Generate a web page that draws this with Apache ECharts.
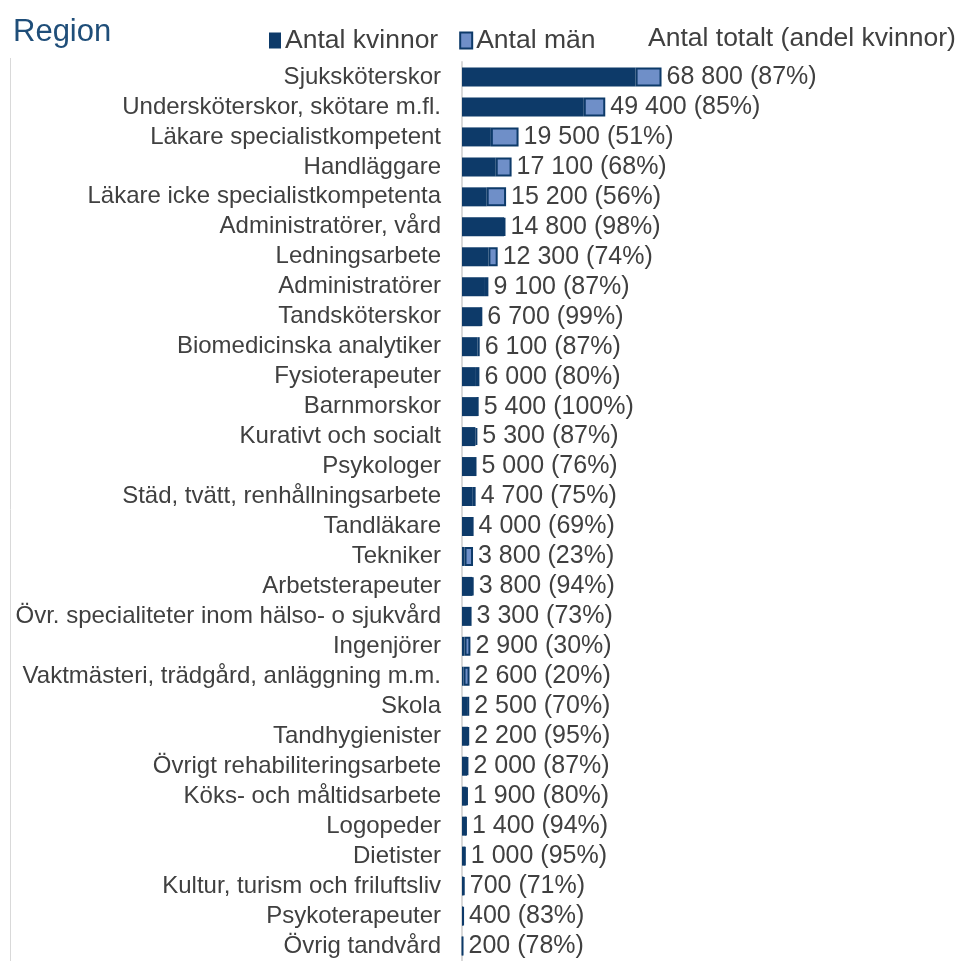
<!DOCTYPE html>
<html>
<head>
<meta charset="utf-8">
<script src="https://cdn.jsdelivr.net/npm/echarts@6/dist/echarts.min.js"></script>
<style>html,body{margin:0;padding:0;background:#fff}#c{width:958px;height:961px}</style>
</head>
<body>
<div id="c"></div>
<script>
const categories = [
  "Sjuksköterskor",
  "Undersköterskor, skötare m.fl.",
  "Läkare specialistkompetent",
  "Handläggare",
  "Läkare icke specialistkompetenta",
  "Administratörer, vård",
  "Ledningsarbete",
  "Administratörer",
  "Tandsköterskor",
  "Biomedicinska analytiker",
  "Fysioterapeuter",
  "Barnmorskor",
  "Kurativt och socialt",
  "Psykologer",
  "Städ, tvätt, renhållningsarbete",
  "Tandläkare",
  "Tekniker",
  "Arbetsterapeuter",
  "Övr. specialiteter inom hälso- o sjukvård",
  "Ingenjörer",
  "Vaktmästeri, trädgård, anläggning m.m.",
  "Skola",
  "Tandhygienister",
  "Övrigt rehabiliteringsarbete",
  "Köks- och måltidsarbete",
  "Logopeder",
  "Dietister",
  "Kultur, turism och friluftsliv",
  "Psykoterapeuter",
  "Övrig tandvård"
];
const totals = [68800, 49400, 19500, 17100, 15200, 14800, 12300, 9100, 6700, 6100, 6000, 5400, 5300, 5000, 4700, 4000, 3800, 3800, 3300, 2900, 2600, 2500, 2200, 2000, 1900, 1400, 1000, 700, 400, 200];
const shareWomen = [87, 85, 51, 68, 56, 98, 74, 87, 99, 87, 80, 100, 87, 76, 75, 69, 23, 94, 73, 30, 20, 70, 95, 87, 80, 94, 95, 71, 83, 78];

const women = totals.map((t, i) => Math.round(t * shareWomen[i] / 100));
const men = totals.map((t, i) => t - women[i]);

function fmt(n) {
  return String(n).replace(/\B(?=(\d{3})+(?!\d))/g, ' ');
}

const DARK = '#0d3a69';
const LIGHT = '#6f8fc8';
const TXT = '#404040';
const FONT = '"Liberation Sans", Arial, sans-serif';

const chart = echarts.init(document.getElementById('c'));
chart.setOption({
  animation: false,
  textStyle: { fontFamily: FONT },
  title: [
    { text: 'Region', left: 8, top: 12, textStyle: { fontFamily: FONT, fontSize: 31, fontWeight: 'normal', color: '#1f4e79' } },
    { text: 'Antal totalt (andel kvinnor)', left: 643, top: 20, textStyle: { fontFamily: FONT, fontSize: 26.5, fontWeight: 'normal', color: TXT } }
  ],
  legend: {
    left: 264, top: 22,
    itemWidth: 12, itemHeight: 16, itemGap: 21,
    icon: 'rect',
    textStyle: { fontFamily: FONT, fontSize: 26.5, color: TXT, padding: [0, 0, 0, -1] },
    data: ['Antal kvinnor', 'Antal män']
  },
  graphic: [
    { type: 'line', shape: { x1: 10.5, y1: 58, x2: 10.5, y2: 961 }, style: { stroke: '#d9d9d9', lineWidth: 1 } }
  ],
  grid: { left: 462, top: 62, height: 900, width: 290, containLabel: false },
  xAxis: { type: 'value', min: 0, max: 100000, show: false },
  yAxis: {
    type: 'category', inverse: true, data: categories,
    axisLine: { show: true, lineStyle: { color: '#d9d9d9', width: 2 } },
    axisTick: { show: false },
    axisLabel: { color: TXT, fontSize: 24, fontFamily: FONT, margin: 21, interval: 0 }
  },
  series: [
    {
      name: 'Antal kvinnor', type: 'bar', stack: 'a', barWidth: 19,
      data: women,
      itemStyle: { color: DARK, borderColor: DARK, borderWidth: 0 }
    },
    {
      name: 'Antal män', type: 'bar', stack: 'a', barWidth: 19,
      data: men,
      itemStyle: { color: LIGHT, borderColor: DARK, borderWidth: 2 },
      label: {
        show: true, position: 'right', distance: 5,
        color: TXT, fontSize: 25, fontFamily: FONT,
        formatter: p => fmt(totals[p.dataIndex]) + ' (' + shareWomen[p.dataIndex] + '%)'
      }
    }
  ]
});
</script>
</body>
</html>
